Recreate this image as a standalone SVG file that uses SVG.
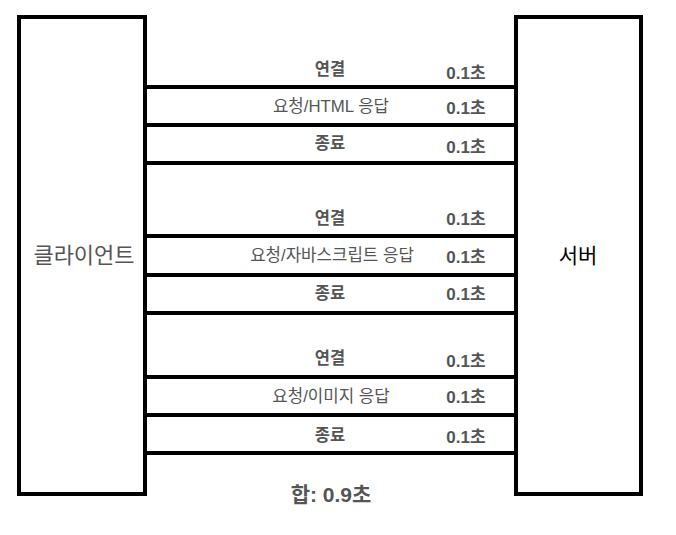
<svg xmlns="http://www.w3.org/2000/svg" width="676" height="535" viewBox="0 0 676 535">
<style>
.box{fill:#fff;stroke:#000;stroke-width:4}
.ln{stroke:#000;stroke-width:4;fill:none}
text{font-family:"Liberation Sans","Noto Sans CJK KR",sans-serif;fill:#555;text-anchor:middle;dominant-baseline:central}
.lb{font-size:16.5px;font-weight:bold}
.ls{font-size:16.8px}
.t{font-size:17px;font-weight:bold}
.big{font-size:21px}
</style>
<rect width="676" height="535" fill="#fff"/>
<g id="client"><rect class="box" x="19" y="17" width="126" height="477"/><text class="big" x="84" y="255" style="font-size:22px">클라이언트</text></g>
<g id="server"><rect class="box" x="516" y="17" width="125" height="477"/><text class="big" x="578" y="255" style="fill:#000">서버</text></g>
<g id="connectors">
<line class="ln" x1="145" y1="87" x2="516" y2="87"/>
<line class="ln" x1="145" y1="125" x2="516" y2="125"/>
<line class="ln" x1="145" y1="163" x2="516" y2="163"/>
<line class="ln" x1="145" y1="236" x2="516" y2="236"/>
<line class="ln" x1="145" y1="275" x2="516" y2="275"/>
<line class="ln" x1="145" y1="313" x2="516" y2="313"/>
<line class="ln" x1="145" y1="377" x2="516" y2="377"/>
<line class="ln" x1="145" y1="415" x2="516" y2="415"/>
<line class="ln" x1="145" y1="453" x2="516" y2="453"/>
</g>
<g id="labels">
<text class="lb" x="330" y="69">연결</text><text class="t" x="466" y="73">0.1초</text>
<text class="ls" x="331" y="106">요청/HTML 응답</text><text class="t" x="466" y="108">0.1초</text>
<text class="lb" x="330" y="143">종료</text><text class="t" x="466" y="147">0.1초</text>
<text class="lb" x="330" y="218">연결</text><text class="t" x="466" y="219">0.1초</text>
<text class="ls" x="332" y="255">요청/자바스크립트 응답</text><text class="t" x="466" y="257">0.1초</text>
<text class="lb" x="330" y="293">종료</text><text class="t" x="466" y="294">0.1초</text>
<text class="lb" x="330" y="358">연결</text><text class="t" x="466" y="361">0.1초</text>
<text class="ls" x="331" y="396">요청/이미지 응답</text><text class="t" x="466" y="397">0.1초</text>
<text class="lb" x="330" y="435">종료</text><text class="t" x="466" y="437">0.1초</text>
<text x="331" y="494" style="font-weight:bold;font-size:21px">합: 0.9초</text>
</g>
</svg>
